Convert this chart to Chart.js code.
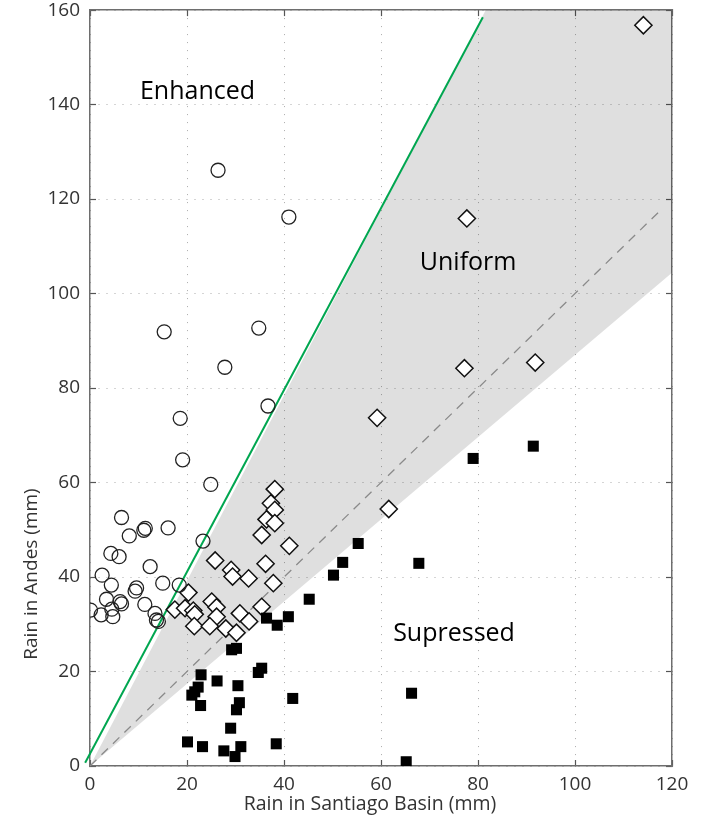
<!DOCTYPE html>
<html>
<head>
<meta charset="utf-8">
<script src="https://cdn.jsdelivr.net/npm/chart.js@4/dist/chart.umd.min.js"></script>
<style>
  html, body { margin: 0; padding: 0; background: #fff; }
  #wrap { width: 702px; height: 822px; position: relative; }
</style>
</head>
<body>
<div id="wrap"><canvas id="chart"></canvas></div>
<script>
// Storm totals (mm): Santiago basin (x) vs. Andes (y)
const enhancedBasin = [26.4, 41.0, 15.3, 34.8, 27.8, 36.7, 18.6, 19.1, 24.9, 6.5, 8.1, 11.1, 11.4, 16.1, 23.3, 4.3, 6.0, 12.4, 2.5, 4.4, 15.0, 18.4, 9.6, 9.3, 3.4, 6.2, 6.5, 11.3, 0.1, 2.3, 4.5, 4.7, 13.4, 13.7, 14.1];
const enhancedAndes = [126.1, 116.2, 91.9, 92.7, 84.4, 76.2, 73.6, 64.8, 59.6, 52.6, 48.7, 49.9, 50.3, 50.4, 47.6, 45.0, 44.3, 42.2, 40.4, 38.3, 38.7, 38.3, 37.7, 37.0, 35.3, 34.8, 34.3, 34.2, 33.0, 32.0, 33.2, 31.6, 32.3, 30.9, 30.6];

const uniformBasin = [38.1, 37.3, 38.1, 36.4, 38.1, 35.4, 41.1, 25.8, 36.2, 29.1, 29.4, 32.7, 37.8, 20.3, 25.1, 26.1, 35.4, 17.5, 19.6, 21.3, 21.6, 30.9, 26.1, 32.8, 21.5, 24.7, 28.0, 30.2, 114.1, 77.7, 77.2, 91.8, 59.2, 61.6];
const uniformAndes = [58.6, 55.6, 54.2, 52.2, 51.4, 48.9, 46.6, 43.5, 42.8, 41.5, 40.1, 39.7, 38.7, 36.7, 34.8, 33.6, 33.7, 33.1, 33.4, 32.9, 32.1, 32.3, 31.6, 30.6, 29.6, 29.6, 29.1, 28.2, 156.8, 115.9, 84.2, 85.4, 73.7, 54.4];

const suppressedBasin = [36.4, 40.9, 38.6, 29.2, 30.2, 35.4, 34.7, 22.9, 26.2, 30.5, 22.3, 21.6, 21.0, 22.8, 30.8, 30.2, 41.8, 29.0, 20.1, 23.2, 27.6, 31.1, 29.9, 38.4, 55.3, 52.1, 50.2, 45.2, 67.8, 66.3, 65.2, 79.0, 91.4];
const suppressedAndes = [31.3, 31.6, 29.8, 24.6, 24.9, 20.7, 19.8, 19.3, 18.0, 17.0, 16.7, 15.7, 15.0, 12.8, 13.4, 11.9, 14.3, 8.0, 5.1, 4.1, 3.2, 4.1, 2.0, 4.7, 47.1, 43.1, 40.4, 35.3, 42.9, 15.4, 0.9, 65.1, 67.7];

// Reference lines and the "uniform" band
const oneToOneX = [0, 118];
const oneToOneY = [0, 118];
const enhancedLimitX = [-1, 81];
const enhancedLimitY = [0.7, 158.5];
const uniformBandX = [0, 81.6, 120, 120, 0];
const uniformBandY = [0, 160, 160, 104.4, 0];

// Axis ticks
const basinTicks = [0, 20, 40, 60, 80, 100, 120];
const andesTicks = [0, 20, 40, 60, 80, 100, 120, 140, 160];

// Region names
const regionNames = ['Enhanced', 'Uniform', 'Supressed'];
const regionBasin = [10.3, 68.0, 62.5];
const regionAndes = [142.6, 106.5, 27.9];

const pts = (xs, ys) => xs.map((v, i) => ({ x: v, y: ys[i] }));

const FONT = '"Open Sans", "Liberation Sans", sans-serif';
const TICK_FONT = { family: FONT, size: 19 };

const textPlugin = {
  id: 'regionText',
  afterDatasetsDraw(chart) {
    const { ctx, chartArea } = chart;
    const xs = chart.scales.x, ys = chart.scales.y;
    ctx.save();
    ctx.fillStyle = '#000';
    ctx.font = '25px ' + FONT;
    ctx.textAlign = 'left';
    ctx.textBaseline = 'middle';
    regionNames.forEach((t, i) => {
      ctx.fillText(t, xs.getPixelForValue(regionBasin[i]), ys.getPixelForValue(regionAndes[i]));
    });
    // axis titles
    ctx.fillStyle = '#333';
    ctx.font = '19.5px ' + FONT;
    ctx.textAlign = 'center';
    ctx.fillText('Rain in Santiago Basin (mm)', (chartArea.left + chartArea.right) / 2 - 11, chartArea.bottom + 38);
    ctx.translate(32, chartArea.bottom - 192);
    ctx.rotate(-Math.PI / 2);
    ctx.font = '19px ' + FONT;
    ctx.fillText('Rain in Andes (mm)', 0, 0);
    ctx.restore();
  }
};

const gridStyle = {
  color: '#ababab',
  lineWidth: 1,
  drawTicks: true,
  tickLength: -6,
  tickColor: '#555',
  tickWidth: 1.2,
  tickBorderDash: []
};
const borderStyle = { display: true, color: '#6e6e6e', width: 1.5, dash: [1, 7] };
const noEdgePadding = s => { s.paddingTop = 0; s.paddingBottom = 0; s.paddingLeft = 0; s.paddingRight = 0; };

new Chart(document.getElementById('chart'), {
  type: 'scatter',
  data: {
    datasets: [
      {
        label: 'Enhanced',
        data: pts(enhancedBasin, enhancedAndes),
        pointStyle: 'circle',
        pointRadius: 7,
        backgroundColor: 'rgba(0,0,0,0)',
        borderColor: '#222',
        borderWidth: 1.3,
        order: 1
      },
      {
        label: 'Uniform',
        data: pts(uniformBasin, uniformAndes),
        pointStyle: 'rectRot',
        pointRadius: 8.6,
        backgroundColor: '#fff',
        borderColor: '#111',
        borderWidth: 1.5,
        order: 2
      },
      {
        label: 'Supressed',
        data: pts(suppressedBasin, suppressedAndes),
        pointStyle: 'rect',
        pointRadius: 7.8,
        backgroundColor: '#000',
        borderColor: '#000',
        borderWidth: 0,
        order: 0
      },
      {
        label: 'enhanced limit',
        data: pts(enhancedLimitX, enhancedLimitY),
        showLine: true,
        pointRadius: 0,
        borderColor: '#00a650',
        borderWidth: 2,
        clip: false,
        order: 3
      },
      {
        label: '1:1',
        data: pts(oneToOneX, oneToOneY),
        showLine: true,
        pointRadius: 0,
        borderColor: '#8a8a8a',
        borderWidth: 1.3,
        borderDash: [9, 7],
        order: 4
      },
      {
        label: 'uniform band',
        data: pts(uniformBandX, uniformBandY),
        showLine: true,
        pointRadius: 0,
        borderWidth: 0,
        borderColor: 'rgba(0,0,0,0)',
        backgroundColor: 'rgba(0,0,0,0.125)',
        fill: 'shape',
        order: 5
      }
    ]
  },
  options: {
    responsive: true,
    maintainAspectRatio: false,
    animation: false,
    layout: { padding: 0 },
    plugins: { legend: { display: false }, tooltip: { enabled: false } },
    scales: {
      x: {
        type: 'linear', position: 'bottom', min: 0, max: 120,
        afterBuildTicks: s => { s.ticks = basinTicks.map(v => ({ value: v })); },
        ticks: { color: '#333', font: TICK_FONT, padding: 13, maxRotation: 0 },
        grid: gridStyle, border: borderStyle,
        afterFit: s => { s.height = 56; noEdgePadding(s); }
      },
      y: {
        type: 'linear', position: 'left', min: 0, max: 160,
        afterBuildTicks: s => { s.ticks = andesTicks.map(v => ({ value: v })); },
        ticks: { color: '#333', font: TICK_FONT, padding: 16 },
        grid: gridStyle, border: borderStyle,
        afterFit: s => { s.width = 90; noEdgePadding(s); }
      },
      x2: {
        type: 'linear', position: 'top', min: 0, max: 120,
        afterBuildTicks: s => { s.ticks = basinTicks.map(v => ({ value: v })); },
        ticks: { display: false },
        grid: Object.assign({}, gridStyle, { drawOnChartArea: false }), border: borderStyle,
        afterFit: s => { s.height = 10; noEdgePadding(s); }
      },
      y2: {
        type: 'linear', position: 'right', min: 0, max: 160,
        afterBuildTicks: s => { s.ticks = andesTicks.map(v => ({ value: v })); },
        ticks: { display: false },
        grid: Object.assign({}, gridStyle, { drawOnChartArea: false }), border: borderStyle,
        afterFit: s => { s.width = 30; noEdgePadding(s); }
      }
    }
  },
  plugins: [textPlugin]
});
</script>
</body>
</html>
